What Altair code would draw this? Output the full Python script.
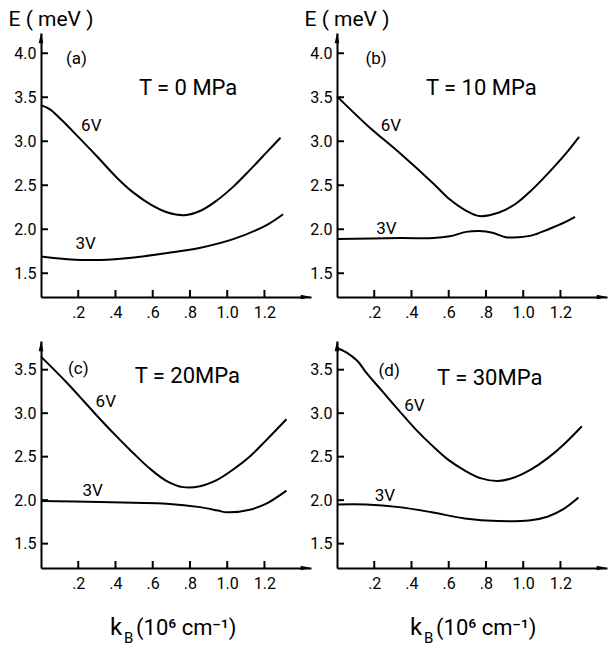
import altair as alt
import pandas as pd

FONT = "Roboto, sans-serif"

# ---- data ----
k6a = [0, 0.05, 0.107, 0.2, 0.3, 0.41, 0.5, 0.59, 0.68, 0.77, 0.857, 0.946, 1.036, 1.125, 1.21, 1.286]
e6a = [3.41, 3.36, 3.25, 3.05, 2.83, 2.58, 2.41, 2.28, 2.19, 2.16, 2.21, 2.33, 2.49, 2.68, 2.87, 3.04]
k3a = [0, 0.143, 0.321, 0.5, 0.679, 0.857, 1.036, 1.214, 1.3]
e3a = [1.69, 1.66, 1.65, 1.68, 1.73, 1.79, 1.89, 2.05, 2.17]

k6b = [0, 0.163, 0.34, 0.517, 0.605, 0.694, 0.765, 0.87, 0.96, 1.048, 1.136, 1.225, 1.30]
e6b = [3.51, 3.18, 2.86, 2.52, 2.34, 2.21, 2.15, 2.19, 2.29, 2.45, 2.64, 2.85, 3.05]
k3b = [0, 0.34, 0.517, 0.605, 0.694, 0.765, 0.835, 0.906, 0.977, 1.048, 1.136, 1.225, 1.278]
e3b = [1.89, 1.90, 1.90, 1.92, 1.97, 1.98, 1.96, 1.91, 1.91, 1.93, 2.00, 2.08, 2.14]

k6c = [0, 0.139, 0.229, 0.318, 0.407, 0.496, 0.586, 0.675, 0.764, 0.854, 0.943, 1.03, 1.12, 1.21, 1.318]
e6c = [3.65, 3.35, 3.14, 2.93, 2.73, 2.54, 2.36, 2.22, 2.15, 2.16, 2.23, 2.35, 2.50, 2.69, 2.93]
k3c = [0, 0.318, 0.496, 0.675, 0.854, 0.95, 1.0, 1.121, 1.21, 1.318]
e3c = [1.99, 1.98, 1.97, 1.96, 1.92, 1.88, 1.86, 1.89, 1.96, 2.11]

k6d = [0, 0.05, 0.11, 0.156, 0.244, 0.333, 0.42, 0.51, 0.60, 0.687, 0.775, 0.864, 0.952, 1.04, 1.13, 1.218, 1.315]
e6d = [3.75, 3.70, 3.60, 3.47, 3.25, 3.03, 2.82, 2.63, 2.46, 2.34, 2.25, 2.22, 2.26, 2.35, 2.48, 2.64, 2.85]
k3d = [0, 0.156, 0.333, 0.51, 0.687, 0.864, 1.04, 1.13, 1.218, 1.297]
e3d = [1.95, 1.95, 1.92, 1.86, 1.79, 1.76, 1.77, 1.81, 1.90, 2.03]

panel_tags = ["(a)", "(b)", "(c)", "(d)"]
tag_k = [0.19, 0.21, 0.20, 0.28]
tag_e = [3.94, 3.93, 3.51, 3.49]
t_labels = ["T = 0 MPa", "T =  10 MPa", "T = 20MPa", "T = 30MPa"]
t_k = [0.79, 0.775, 0.786, 0.82]
t_e = [3.60, 3.60, 3.43, 3.40]
v6_k = [0.27, 0.29, 0.348, 0.416]
v6_e = [3.17, 3.17, 3.13, 3.08]
v3_k = [0.24, 0.265, 0.277, 0.257]
v3_e = [1.83, 2.00, 2.11, 2.05]

x_ticks = [0.2, 0.4, 0.6, 0.8, 1.0, 1.2]
y_ticks_top = [1.5, 2.0, 2.5, 3.0, 3.5, 4.0]
y_ticks_bot = [1.5, 2.0, 2.5, 3.0, 3.5]

W = 270
XDOM = [0, 1.45]


def panel(i, k6, e6, k3, e3, ydom, H, yticks, ytitle, xtitle):
    curves = pd.DataFrame({
        "k": k6 + k3,
        "E": e6 + e3,
        "series": ["6V"] * len(k6) + ["3V"] * len(k3),
    })
    xs = alt.Scale(domain=XDOM, nice=False, zero=False)
    ys = alt.Scale(domain=ydom, nice=False, zero=False)
    xaxis = alt.Axis(values=x_ticks, tickSize=0, domainWidth=2, domainColor="black",
                     labelPadding=7, labelFontSize=16, labelFont=FONT, labelColor="black",
                     grid=False, title=None,
                     labelExpr="datum.value < 1 ? substring(format(datum.value, '.1f'), 1) : format(datum.value, '.1f')")
    yargs = dict(values=yticks, format=".1f", tickSize=0, domainWidth=2, domainColor="black",
                 labelPadding=5, labelFontSize=16, labelFont=FONT, labelColor="black", grid=False)
    if ytitle:
        yaxis = alt.Axis(title="E ( meV )", titleAngle=0, titleX=-33, titleY=-8, titleAlign="left",
                         titleBaseline="alphabetic", titleFontSize=21, titleFont=FONT,
                         titleFontWeight="normal", titleColor="black", **yargs)
    else:
        yaxis = alt.Axis(title=None, **yargs)

    X = alt.X("k:Q", scale=xs, axis=xaxis)
    Y = alt.Y("E:Q", scale=ys, axis=yaxis)

    lines = alt.Chart(curves).mark_line(color="black", strokeWidth=2, interpolate="catmull-rom").encode(
        x=X, y=Y, detail="series:N")

    xt = alt.Chart(pd.DataFrame({"k": x_ticks})).mark_rule(color="black", strokeWidth=2).encode(
        x=X, y=alt.value(H), y2=alt.value(H - 7))
    yt = alt.Chart(pd.DataFrame({"E": yticks})).mark_rule(color="black", strokeWidth=2).encode(
        y=Y, x=alt.value(0), x2=alt.value(7))

    one = pd.DataFrame({"a": [0]})
    up = alt.Chart(one).mark_point(shape="M0,-1L0.38,0.7L-0.38,0.7Z", filled=True, size=150,
                                   color="black", opacity=1).encode(x=alt.value(0), y=alt.value(6))
    right = alt.Chart(one).mark_point(shape="M1,0L-0.7,0.38L-0.7,-0.38Z", filled=True, size=150,
                                      color="black", opacity=1).encode(x=alt.value(W - 6), y=alt.value(H))

    ann = pd.DataFrame({
        "k": [tag_k[i], t_k[i], v6_k[i], v3_k[i]],
        "E": [tag_e[i], t_e[i], v6_e[i], v3_e[i]],
        "txt": [panel_tags[i], t_labels[i], "6V", "3V"],
        "fs": [17, 22, 17, 17],
    })
    texts = alt.Chart(ann).mark_text(font=FONT, color="black", baseline="middle", align="center").encode(
        x=X, y=Y, text="txt:N", size=alt.Size("fs:Q", scale=None, legend=None))

    layers = [lines, xt, yt, up, right, texts]

    if xtitle:
        off = 69 if i == 2 else 73
        layers.append(alt.Chart(one).mark_text(text="k", font=FONT, fontSize=24, color="black",
                                               align="left", baseline="alphabetic").encode(
            x=alt.value(off), y=alt.value(H + 67)))
        layers.append(alt.Chart(one).mark_text(text="B", font=FONT, fontSize=15, color="black",
                                               align="left", baseline="alphabetic").encode(
            x=alt.value(off + 14), y=alt.value(H + 75)))
        layers.append(alt.Chart(one).mark_text(text="(10⁶ cm⁻¹)", font=FONT, fontSize=22, color="black",
                                               align="left", baseline="alphabetic").encode(
            x=alt.value(off + 26), y=alt.value(H + 67)))

    return alt.layer(*layers).properties(width=W, height=H)


pa = panel(0, k6a, e6a, k3a, e3a, [1.23, 4.23], 264, y_ticks_top, True, False)
pb = panel(1, k6b, e6b, k3b, e3b, [1.23, 4.23], 264, y_ticks_top, True, False)
pc = panel(2, k6c, e6c, k3c, e3c, [1.22, 3.83], 227, y_ticks_bot, False, True)
pd_ = panel(3, k6d, e6d, k3d, e3d, [1.22, 3.83], 227, y_ticks_bot, False, True)

chart = alt.concat(pa, pb, pc, pd_, columns=2, spacing={"row": 44, "column": 26},
                   bounds="flush").properties(
    padding={"left": 0, "top": 0, "right": 0, "bottom": 0},
    background="white",
).configure_view(stroke=None)

chart.save("out.html", embed_options={"renderer": "svg", "actions": False})
